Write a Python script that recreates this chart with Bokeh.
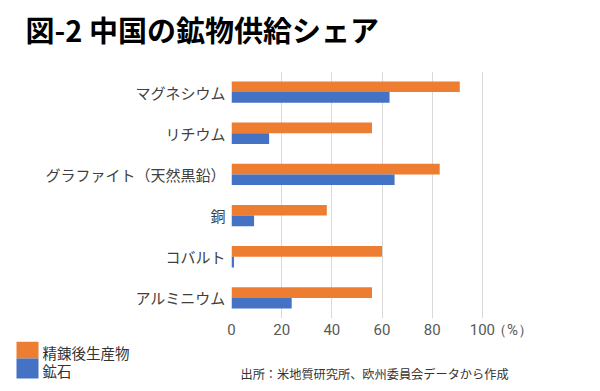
from bokeh.plotting import figure
from bokeh.layouts import column
from bokeh.models import FactorRange, Range1d, ColumnDataSource
from bokeh.core.properties import value
from bokeh.transform import dodge
from bokeh.embed import file_html
from bokeh.resources import INLINE

# ---- data ----
minerals = ["マグネシウム", "リチウム", "グラファイト（天然黒鉛）", "銅", "コバルト", "アルミニウム"]
refined = [91, 56, 83, 38, 60, 56]   # 精錬後生産物
ore = [63, 15, 65, 9, 1, 24]         # 鉱石
x_ticks = [0, 20, 40, 60, 80, 100]
unit_tick = 112
series_names = ["精錬後生産物", "鉱石"]
title_text = "図-2 中国の鉱物供給シェア"
source_text = "出所：米地質研究所、欧州委員会データから作成"
unit_text = "（%）"

ORANGE = "#ED7D31"
BLUE = "#4472C4"
FONT = "Noto Sans CJK JP"

W = 592
TOP_H = 71          # header height
FRAME_H = 250
AXIS_H = 20
MAIN_H = FRAME_H + AXIS_H
TOTAL_H = 383
FOOT_TOP = TOP_H + MAIN_H


def blank(height, y_top, y_bottom):
    f = figure(width=W, height=height, x_range=Range1d(0, W), y_range=Range1d(y_bottom, y_top),
               output_backend="svg", toolbar_location=None, frame_align=False,
               x_axis_location=None, y_axis_location=None, min_border=0)
    f.outline_line_color = None
    f.grid.visible = False
    return f


# ---- header ----
head = blank(TOP_H, 0, TOP_H)
head.text(x=[25], y=[28], text=[title_text], text_font=value(FONT), text_font_style="bold",
          text_font_size="29px", text_color="#000000", text_baseline="middle", text_align="left")

# ---- main chart ----
src = ColumnDataSource(dict(m=minerals, refined=refined, ore=ore))
p = figure(width=W, height=MAIN_H,
           y_range=FactorRange(*list(reversed(minerals))),
           x_range=Range1d(0, 116),
           output_backend="svg", toolbar_location=None, frame_align=False,
           min_border_left=231, min_border_right=W - 231 - 291,
           min_border_top=0, min_border_bottom=AXIS_H)

p.hbar(y=dodge("m", 0.13, range=p.y_range), right="refined", left=0, height=0.26,
       fill_color=ORANGE, line_color=None, source=src)
p.hbar(y=dodge("m", -0.13, range=p.y_range), right="ore", left=0, height=0.26,
       fill_color=BLUE, line_color=None, source=src)

p.outline_line_color = None
p.ygrid.grid_line_color = None
p.xgrid.ticker = x_ticks
p.xgrid.grid_line_color = "#d9d9d9"
p.xgrid.grid_line_width = 1

p.xaxis.ticker = x_ticks + [unit_tick]
p.xaxis.major_label_overrides = {unit_tick: unit_text}
p.xaxis.axis_line_color = None
p.xaxis.major_tick_line_color = None
p.xaxis.minor_tick_line_color = None
p.xaxis.major_tick_out = 0
p.xaxis.major_label_text_font = "Roboto"
p.xaxis.major_label_text_font_size = "15px"
p.xaxis.major_label_text_color = "#595959"
p.xaxis.major_label_standoff = 2

p.yaxis.axis_line_color = None
p.yaxis.major_tick_line_color = None
p.yaxis.minor_tick_line_color = None
p.yaxis.major_tick_out = 0
p.yaxis.major_label_text_font = FONT
p.yaxis.major_label_text_font_size = "15px"
p.yaxis.major_label_text_color = "#404040"
p.yaxis.major_label_standoff = 6

# ---- footer: legend + source ----
foot = blank(TOTAL_H - FOOT_TOP, FOOT_TOP, TOTAL_H)
foot.quad(left=[16, 16], right=[38, 38], top=[FOOT_TOP, 358], bottom=[358, 378],
          fill_color=[ORANGE, BLUE], line_color=None)
foot.text(x=[42, 42], y=[352, 370], text=series_names, text_font=value(FONT),
          text_font_size="14.5px", text_color="#333333", text_baseline="middle", text_align="left")
foot.text(x=[240], y=[373], text=[source_text], text_font=value(FONT),
          text_font_size="12.2px", text_color="#333333", text_baseline="middle", text_align="left")

layout = column(head, p, foot, spacing=0)
open("out.html", "w").write(file_html(layout, INLINE))
